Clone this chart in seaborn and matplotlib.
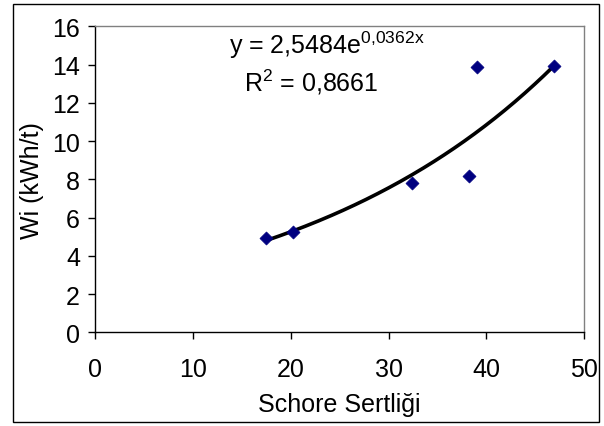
import numpy as np
import pandas as pd
import matplotlib
matplotlib.use("Agg")
import matplotlib.pyplot as plt
import seaborn as sns
from matplotlib.patches import Rectangle

# Data
schore = [17.5, 20.2, 32.4, 38.2, 39.1, 46.9]
wi = [4.93, 5.23, 7.81, 8.17, 13.86, 13.94]
coef_a = 2.5484
coef_b = 0.0362
r2_text = "0,8661"
x_ticks = [0, 10, 20, 30, 40, 50]
y_ticks = [0, 2, 4, 6, 8, 10, 12, 14, 16]

sns.set_theme(style="white")
plt.rcParams['font.family'] = ['Liberation Sans', 'DejaVu Sans']
plt.rcParams['mathtext.fontset'] = 'custom'
plt.rcParams['mathtext.rm'] = 'Liberation Sans'
plt.rcParams['mathtext.it'] = 'Liberation Sans'
plt.rcParams['mathtext.default'] = 'regular'
plt.rcParams['text.color'] = 'black'
plt.rcParams['axes.labelcolor'] = 'black'
plt.rcParams['xtick.color'] = 'black'
plt.rcParams['ytick.color'] = 'black'

FS = 18

fig = plt.figure(figsize=(6.04, 4.27), dpi=100)
ax = fig.add_axes([95.3/604, 1-333.3/427, (584-95.3)/604, (333.3-27.3)/427])

df = pd.DataFrame({"x": schore, "y": wi})
sns.scatterplot(data=df, x="x", y="y", marker="D", s=44, color="#000080",
                edgecolor="#000080", linewidth=0.5, ax=ax, zorder=3)

xt = np.linspace(min(schore), max(schore), 200)
trend = pd.DataFrame({"x": xt, "y": coef_a*np.exp(coef_b*xt)})
sns.lineplot(data=trend, x="x", y="y", color="black", linewidth=2.6, ax=ax, zorder=2)

ax.set_xlim(0, 50)
ax.set_ylim(0, 16)
ax.set_xticks(x_ticks)
ax.set_yticks(y_ticks)
ax.tick_params(axis='both', labelsize=FS, direction='out', length=5, width=1,
               color='black', bottom=True, left=True, labelcolor='black')
ax.tick_params(axis='x', pad=13)
ax.tick_params(axis='y', pad=6)
ax.set_xlabel("Schore Sertliği", fontsize=FS, labelpad=8, color='black')
ax.set_ylabel("Wi (kWh/t)", fontsize=FS, labelpad=6, color='black')

for side in ['left', 'bottom']:
    ax.spines[side].set_color('black')
    ax.spines[side].set_linewidth(1.0)
for side in ['top', 'right']:
    ax.spines[side].set_color('#808080')
    ax.spines[side].set_linewidth(1.0)

ax.text(23.7, 15.07, r"y = 2,5484e$^{0{,}0362x}$", fontsize=FS, ha='center', va='center')
ax.text(22.1, 13.14, r"R$^{2}$ = " + r2_text, fontsize=FS, ha='center', va='center')

fig.patches.append(Rectangle((12.5/604, 1-423/427), (598.5-12.5)/604, (423-4.5)/427,
                             transform=fig.transFigure, fill=False, edgecolor='black',
                             linewidth=1.0))

fig.savefig("out.png", dpi=100)
